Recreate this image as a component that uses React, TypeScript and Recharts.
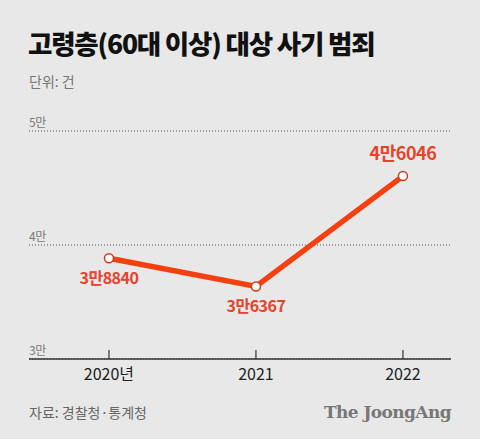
import { CartesianGrid, Line, LineChart, XAxis, YAxis } from 'recharts'

const years = [2020, 2021, 2022]
const cases = [38840, 36367, 46046]
const yTicks = [30000, 40000, 50000]

const data = years.map((year, i) => ({ year, cases: cases[i] }))

const LEFT = 29
const RIGHT = 29
const RED = '#f4400f'
const LABEL_RED = '#e4442a'
const KR = '"Noto Sans CJK KR", "Noto Sans", sans-serif'

if (typeof document !== 'undefined') {
  document.body.style.margin = '0'
}

function formatMan(v: number) {
  const man = Math.floor(v / 10000)
  const rest = v % 10000
  return `${man}만${rest || ''}`
}

function YTick(props: { y?: number; payload?: { value: number } }) {
  const { y, payload } = props
  if (y == null || !payload) return null
  return (
    <text x={LEFT} y={y - 4} fontSize={12} fill="#7a7a7a" fontFamily={KR} letterSpacing={-0.5}>
      {`${payload.value / 10000}만`}
    </text>
  )
}

function XTick(props: { x?: number; y?: number; payload?: { value: number } }) {
  const { x, y, payload } = props
  if (x == null || y == null || !payload) return null
  const label = payload.value === years[0] ? `${payload.value}년` : `${payload.value}`
  return (
    <g>
      <line x1={x} x2={x} y1={y - 9} y2={y} stroke="#333" strokeWidth={1.2} />
      <text x={x} y={y + 21} textAnchor="middle" fontSize={16} fill="#222" fontFamily={KR}>
        {label}
      </text>
    </g>
  )
}

function ValueLabel(props: { x?: number; y?: number; index?: number; value?: number }) {
  const { x, y, index, value } = props
  if (x == null || y == null || value == null) return null
  const last = index === cases.length - 1
  return (
    <text
      x={x}
      y={last ? y - 16 : y + 26}
      textAnchor="middle"
      fontSize={last ? 18 : 16}
      fontWeight={700}
      fill={LABEL_RED}
      fontFamily={KR}
      letterSpacing={-0.5}
    >
      {formatMan(value)}
    </text>
  )
}

export default function App() {
  return (
    <div
      style={{
        position: 'relative',
        width: 480,
        height: 439,
        background: '#e8e8e8',
        fontFamily: KR,
        overflow: 'hidden',
      }}
    >
      <div
        style={{
          position: 'absolute',
          left: 28,
          top: 26,
          fontSize: 26.5,
          fontWeight: 900,
          letterSpacing: -1.2,
          color: '#111',
          lineHeight: '34px',
        }}
      >
        고령층(60대 이상) 대상 사기 범죄
      </div>
      <div style={{ position: 'absolute', left: 29, top: 71, fontSize: 14, color: '#777', lineHeight: '20px' }}>
        단위: 건
      </div>
      <LineChart
        width={480}
        height={439}
        data={data}
        margin={{ top: 131, right: RIGHT, bottom: 50, left: 0 }}
      >
        <CartesianGrid horizontal vertical={false} stroke="#555" strokeDasharray="1 2" />
        <YAxis
          type="number"
          domain={[30000, 50000]}
          ticks={yTicks}
          width={LEFT}
          axisLine={false}
          tickLine={false}
          tick={<YTick />}
        />
        <XAxis
          dataKey="year"
          type="number"
          domain={[2019.456, 2022.327]}
          ticks={years}
          height={30}
          axisLine={{ stroke: '#333', strokeWidth: 1.5 }}
          tickLine={false}
          tickSize={0}
          tickMargin={0}
          tick={<XTick />}
          interval={0}
        />
        <Line
          type="linear"
          dataKey="cases"
          stroke={RED}
          strokeWidth={5.5}
          dot={{ r: 4.5, fill: '#fff', stroke: '#c63d20', strokeWidth: 1.5 }}
          label={<ValueLabel />}
          isAnimationActive={false}
        />
      </LineChart>
      <div style={{ position: 'absolute', left: 29, top: 402, fontSize: 14, color: '#666', lineHeight: '20px' }}>
        자료: 경찰청·통계청
      </div>
      <div
        style={{
          position: 'absolute',
          right: 29,
          top: 400,
          fontSize: 17,
          fontWeight: 700,
          color: '#777',
          fontFamily: '"DejaVu Serif", "Liberation Serif", serif',
          letterSpacing: -0.6,
          lineHeight: '24px',
        }}
      >
        The JoongAng
      </div>
    </div>
  )
}
